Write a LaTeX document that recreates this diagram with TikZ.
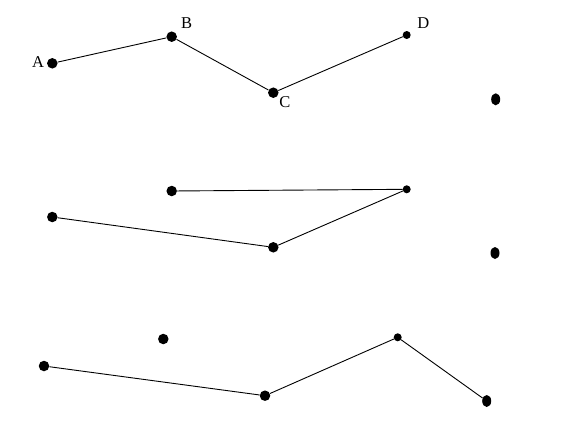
\documentclass[tikz,border=0pt]{standalone}
\usepackage{fontspec}
\setmainfont{Liberation Serif}
\usetikzlibrary{shapes.geometric}
\begin{document}
\begin{tikzpicture}[x=1pt,y=-1pt,
  bigdot/.style={circle,fill=black,inner sep=0pt,minimum size=10.5pt},
  smalldot/.style={circle,fill=black,inner sep=0pt,minimum size=8pt},
  ovaldot/.style={ellipse,fill=black,inner sep=0pt,minimum width=9pt,minimum height=12pt},
  seg/.style={line width=0.9pt},
  lbl/.style={font=\fontsize{16.5}{19}\selectfont,inner sep=0pt}]
\useasboundingbox (0,0) rectangle (582,426);
% row 1
\node[bigdot] (A) at (52.3,63.3) {};
\node[bigdot] (B) at (171.7,36.7) {};
\node[bigdot] (C) at (273.3,92.7) {};
\node[smalldot] (D) at (406.7,35) {};
\node[ovaldot] (E1) at (495.7,99.3) {};
\node[lbl] (lA) at (38,62) {A};
\node[lbl] (lB) at (186.7,22.7) {B};
\node[lbl] (lC) at (285,101.7) {C};
\node[lbl] (lD) at (423.3,22.7) {D};
\draw[seg] (A) -- (B) -- (C) -- (D);
% row 2
\node[bigdot] (P1) at (171.7,191) {};
\node[smalldot] (P2) at (406.7,189.3) {};
\node[bigdot] (P3) at (273.3,247.3) {};
\node[bigdot] (P4) at (52.3,217) {};
\node[ovaldot] (E2) at (495,253) {};
\draw[seg] (P1) -- (P2) -- (P3) -- (P4);
% row 3
\node[bigdot] (Q0) at (163.3,339) {};
\node[bigdot] (Q1) at (44,366) {};
\node[bigdot] (Q2) at (265,395.7) {};
\node[smalldot] (Q3) at (397.7,337.3) {};
\node[ovaldot] (Q4) at (486.7,401) {};
\draw[seg] (Q1) -- (Q2) -- (Q3) -- (Q4);
\end{tikzpicture}
\end{document}
